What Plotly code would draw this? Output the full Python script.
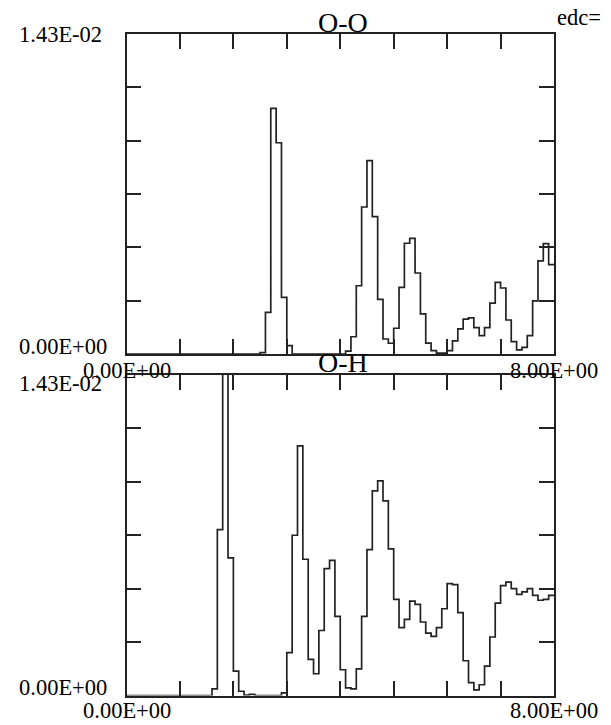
import plotly.graph_objects as go

# Bin edges (0.1 wide, 0..8)
r_edges = [round(i * 0.1, 1) for i in range(81)]

# O-O histogram values (units of 1e-3), 80 bins
oo_vals = [0]*25 + [0.06, 1.86, 10.98, 9.44, 2.53, 0.37] + [0]*10 + [
    0.13, 0.77, 3.05, 6.57, 8.64, 6.14, 2.44, 0.67, 0.48, 1.15,
    2.98, 4.95, 5.17, 3.62, 1.79, 0.49, 0.15, 0.04, 0.04, 0.15,
    0.59, 1.12, 1.56, 1.61, 1.18, 0.82, 1.18, 2.27, 3.20, 2.95,
    1.52, 0.55, 0.18, 0.30, 0.82, 2.37, 4.16, 4.93, 3.99]

# O-H histogram values (units of 1e-3), 80 bins
oh_vals = [0]*16 + [0.30, 7.40, 21.0, 6.14, 1.09, 0.19, 0.02, 0.05] + [0]*5 + [
    0.12, 1.91, 7.15, 11.14, 6.08, 1.61, 0.97, 2.90, 5.66, 6.03,
    3.53, 1.15, 0.34, 0.30, 1.19, 3.53, 6.51, 9.13, 9.58, 8.68,
    6.54, 4.29, 3.03, 3.40, 4.21, 4.07, 3.28, 2.78, 2.64, 3.03,
    3.87, 4.99, 4.95, 3.70, 1.55, 0.57, 0.25, 0.48, 1.31, 2.61,
    4.12, 4.90, 5.06, 4.77, 4.51, 4.62, 4.77, 4.47, 4.25, 4.29, 4.47]

panel_titles = ["O-O", "O-H"]
y_max = 1.43e-2
x_min, x_max = 0.0, 8.0
y_tick_labels = ["0.00E+00", "1.43E-02"]
x_tick_labels = ["0.00E+00", "8.00E+00"]

W, H = 611, 725
L, R = 126.5, 554.0
panels = [(34.0, 354.0), (375.0, 695.5)]
title_y = [22.0, 362.0]
ymax_label_y = [35.0, 383.0]
xlab_y = [370.0, 710.0]

LINE = "#222222"
FONT = "Liberation Serif, Times New Roman, Times, serif"
LAB = 22.5


def px(x):
    return x / W


def py(y):
    return 1 - y / H


def label(text, x, y, xanchor, size=LAB):
    return dict(text=text, x=px(x), y=py(y), xref="paper", yref="paper",
                showarrow=False, xanchor=xanchor, yanchor="middle", borderpad=0,
                font=dict(family=FONT, size=size, color="black"))


fig = go.Figure()
for i, vals in enumerate([oo_vals, oh_vals]):
    yv = [v * 1e-3 for v in vals]
    yv = yv + [yv[-1]]
    suffix = "" if i == 0 else "2"
    fig.add_trace(go.Scatter(
        x=r_edges, y=yv, mode="lines", line=dict(shape="hv", color=LINE, width=1.7),
        xaxis="x" + suffix, yaxis="y" + suffix, showlegend=False, hoverinfo="skip"))

axis_common = dict(showline=True, linecolor=LINE, linewidth=1.7, mirror="ticks",
                   ticks="inside", ticklen=15, tickwidth=1.7, tickcolor=LINE,
                   showgrid=False, zeroline=False, showticklabels=False)

layout = dict(width=W, height=H, margin=dict(l=0, r=0, t=0, b=0),
              paper_bgcolor="white", plot_bgcolor="white", showlegend=False)

annotations = []
for i, (top, bot) in enumerate(panels):
    suffix = "" if i == 0 else "2"
    xa = dict(axis_common, domain=[px(L), px(R)], range=[x_min, x_max],
              tickvals=[float(k) for k in range(9)])
    ya = dict(axis_common, domain=[py(bot), py(top)], range=[0, y_max],
              tickvals=[y_max * k / 6 for k in range(7)])
    if i == 1:
        xa["anchor"] = "y2"
        ya["anchor"] = "x2"
    layout["xaxis" + suffix] = xa
    layout["yaxis" + suffix] = ya

    annotations.append(label(panel_titles[i], (L + R) / 2 + 3, title_y[i], "center", size=28))
    annotations.append(label(y_tick_labels[1], 18, ymax_label_y[i], "left"))
    annotations.append(label(y_tick_labels[0], 18, bot - 8, "left"))
    for xl, lab in zip([L, R], x_tick_labels):
        annotations.append(label(lab, xl, xlab_y[i], "center"))

annotations.append(label("edc=", 556, 17, "left"))

layout["annotations"] = annotations
fig.update_layout(**layout)
fig.write_html("out.html", config={"displayModeBar": False},
               post_script="document.body.style.margin='0';")
